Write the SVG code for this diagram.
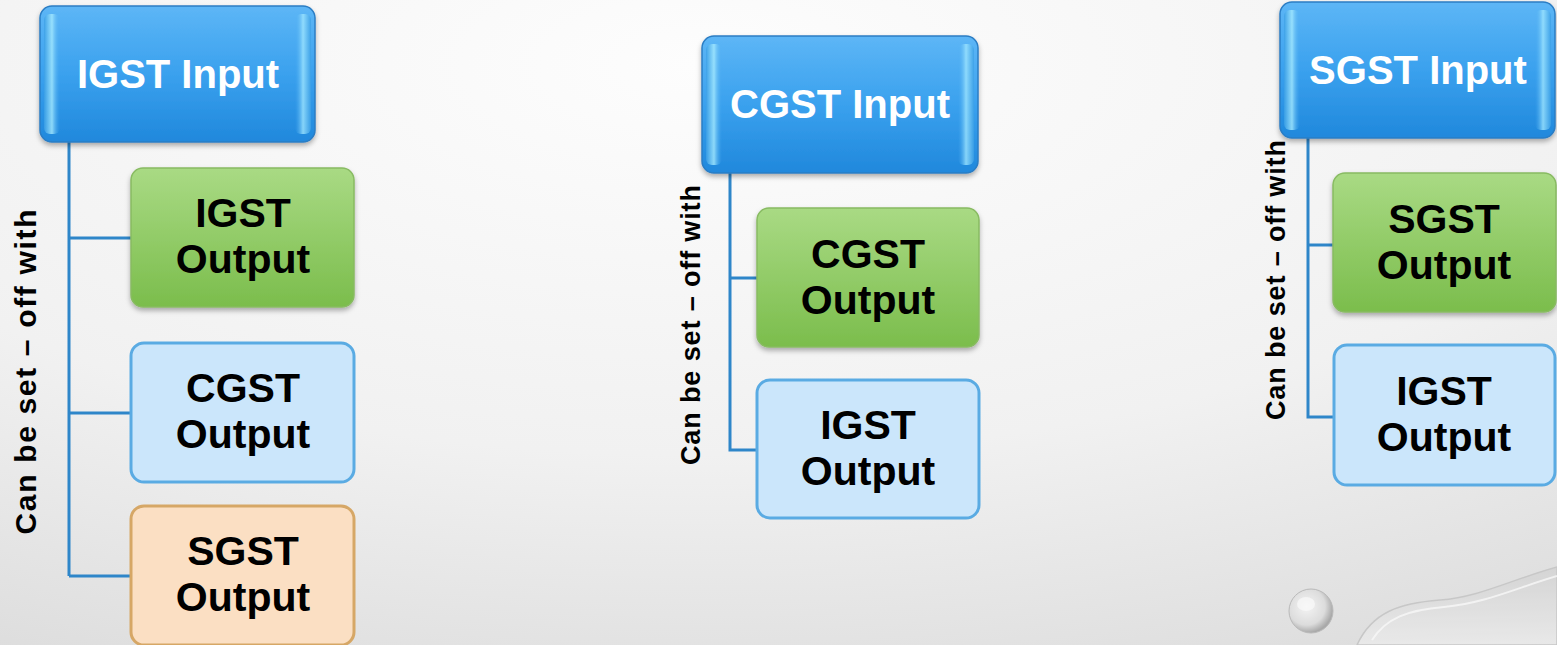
<svg xmlns="http://www.w3.org/2000/svg" width="1557" height="645" viewBox="0 0 1557 645">
  <defs>
    <radialGradient id="bg" cx="0.45" cy="0.1" r="1.1">
      <stop offset="0" stop-color="#fdfdfd"/>
      <stop offset="0.55" stop-color="#f1f1f1"/>
      <stop offset="1" stop-color="#d9d9d9"/>
    </radialGradient>
    <linearGradient id="blueFill" x1="0" y1="0" x2="0" y2="1">
      <stop offset="0" stop-color="#5db6f6"/>
      <stop offset="0.5" stop-color="#3aa1ee"/>
      <stop offset="1" stop-color="#2088dc"/>
    </linearGradient>
    <linearGradient id="blueEdgeL" x1="0" y1="0" x2="1" y2="0">
      <stop offset="0" stop-color="#3a9fe6"/>
      <stop offset="0.5" stop-color="#a8ecff"/>
      <stop offset="1" stop-color="#4aaaf0" stop-opacity="0"/>
    </linearGradient>
    <linearGradient id="blueEdgeR" x1="1" y1="0" x2="0" y2="0">
      <stop offset="0" stop-color="#3a9fe6"/>
      <stop offset="0.5" stop-color="#9fe6ff"/>
      <stop offset="1" stop-color="#4aaaf0" stop-opacity="0"/>
    </linearGradient>
    <linearGradient id="greenFill" x1="0" y1="0" x2="0" y2="1">
      <stop offset="0" stop-color="#a9da84"/>
      <stop offset="1" stop-color="#7bbd4c"/>
    </linearGradient>
    <radialGradient id="bubble" cx="0.4" cy="0.4" r="0.6">
      <stop offset="0" stop-color="#f4f4f4"/>
      <stop offset="0.7" stop-color="#dcdcdc"/>
      <stop offset="1" stop-color="#a9a9a9"/>
    </radialGradient>
    <linearGradient id="wave" x1="0" y1="0" x2="0" y2="1">
      <stop offset="0" stop-color="#d2d2d2"/>
      <stop offset="1" stop-color="#ececec"/>
    </linearGradient>
    <filter id="shadow" x="-10%" y="-10%" width="120%" height="130%">
      <feDropShadow dx="0" dy="3" stdDeviation="2.5" flood-color="#000" flood-opacity="0.3"/>
    </filter>
  </defs>
  <style>
    .in-box { fill: url(#blueFill); stroke: #2b7dc4; stroke-width: 1.5; filter: url(#shadow); }
    .out-green { fill: url(#greenFill); stroke: #88bb62; stroke-width: 1.5; filter: url(#shadow); }
    .out-blue { fill: #cbe6fb; stroke: #5aabe3; stroke-width: 3; }
    .out-orange { fill: #fbdfc3; stroke: #d6a766; stroke-width: 3; }
    .in-label { font-family: "Liberation Sans", Arial, sans-serif; font-weight: bold; font-size: 40px; fill: #ffffff; text-anchor: middle; }
    .out-label { font-family: "Liberation Sans", Arial, sans-serif; font-weight: bold; font-size: 41px; fill: #000000; text-anchor: middle; }
    .side { font-family: "Liberation Sans", Arial, sans-serif; font-weight: bold; fill: #000000; text-anchor: middle; }
    .conn { fill: none; stroke: #2e86c9; stroke-width: 3; }
  </style>

  <!-- backdrop -->
  <rect x="0" y="0" width="1557" height="645" fill="url(#bg)"/>

  <!-- corner ornament: droplet and wave -->
  <g id="ornament">
    <path d="M1357 645 C1372 612 1400 603 1440 600 C1480 597 1510 580 1557 567 L1557 645 Z" fill="url(#wave)" stroke="#c2c2c2" stroke-width="1.5" opacity="0.8"/>
    <path d="M1372 640 C1386 618 1408 610 1444 607 C1486 603 1516 588 1557 576" fill="none" stroke="#f8f8f8" stroke-width="2" opacity="0.8"/>
    <circle cx="1311" cy="611" r="22" fill="url(#bubble)" stroke="#b9b9b9" stroke-width="1"/>
    <ellipse cx="1306" cy="604" rx="9" ry="7" fill="#fafafa" opacity="0.7"/>
  </g>

  <!-- tree connectors -->
  <g id="connectors">
    <path class="conn" d="M69 142 V576 M69 238 H131 M69 413 H131 M69 576 H131"/>
    <path class="conn" d="M730 173 V450 H757 M730 278 H757"/>
    <path class="conn" d="M1308 138 V417 H1333 M1308 245 H1333"/>
  </g>

  <!-- left tree -->
  <g id="igst-input">
    <rect class="in-box" x="40" y="6" width="275" height="136" rx="12"/>
    <rect x="44" y="14" width="16" height="120" rx="6" fill="url(#blueEdgeL)" opacity="0.8"/>
    <rect x="295" y="14" width="16" height="120" rx="6" fill="url(#blueEdgeR)" opacity="0.8"/>
    <text class="in-label" x="178" y="88">IGST Input</text>
  </g>
  <g id="igst-output-1">
    <rect class="out-green" x="131" y="168" width="223" height="139" rx="12"/>
    <text class="out-label" x="243" y="227">IGST</text>
    <text class="out-label" x="243" y="273">Output</text>
  </g>
  <g id="cgst-output-1">
    <rect class="out-blue" x="131" y="343" width="223" height="139" rx="13"/>
    <text class="out-label" x="243" y="402">CGST</text>
    <text class="out-label" x="243" y="448">Output</text>
  </g>
  <g id="sgst-output-1">
    <rect class="out-orange" x="131" y="506" width="223" height="139" rx="13"/>
    <text class="out-label" x="243" y="565">SGST</text>
    <text class="out-label" x="243" y="611">Output</text>
  </g>
  <g id="note-1">
    <text class="side" font-size="30" textLength="325" lengthAdjust="spacing" transform="translate(36 372) rotate(-90)">Can be set – off with</text>
  </g>

  <!-- middle tree -->
  <g id="cgst-input">
    <rect class="in-box" x="702" y="36" width="276" height="137" rx="12"/>
    <rect x="706" y="44" width="16" height="121" rx="6" fill="url(#blueEdgeL)" opacity="0.8"/>
    <rect x="958" y="44" width="16" height="121" rx="6" fill="url(#blueEdgeR)" opacity="0.8"/>
    <text class="in-label" x="840" y="118">CGST Input</text>
  </g>
  <g id="cgst-output-2">
    <rect class="out-green" x="757" y="208" width="222" height="139" rx="12"/>
    <text class="out-label" x="868" y="268">CGST</text>
    <text class="out-label" x="868" y="314">Output</text>
  </g>
  <g id="igst-output-2">
    <rect class="out-blue" x="757" y="380" width="222" height="138" rx="13"/>
    <text class="out-label" x="868" y="439">IGST</text>
    <text class="out-label" x="868" y="485">Output</text>
  </g>
  <g id="note-2">
    <text class="side" font-size="27" textLength="280" lengthAdjust="spacing" transform="translate(700 325) rotate(-90)">Can be set – off with</text>
  </g>

  <!-- right tree -->
  <g id="sgst-input">
    <rect class="in-box" x="1280" y="2" width="275" height="136" rx="12"/>
    <rect x="1284" y="10" width="16" height="120" rx="6" fill="url(#blueEdgeL)" opacity="0.8"/>
    <rect x="1535" y="10" width="16" height="120" rx="6" fill="url(#blueEdgeR)" opacity="0.8"/>
    <text class="in-label" x="1418" y="84">SGST Input</text>
  </g>
  <g id="sgst-output-3">
    <rect class="out-green" x="1333" y="173" width="223" height="139" rx="12"/>
    <text class="out-label" x="1444" y="233">SGST</text>
    <text class="out-label" x="1444" y="279">Output</text>
  </g>
  <g id="igst-output-3">
    <rect class="out-blue" x="1334" y="345" width="221" height="140" rx="13"/>
    <text class="out-label" x="1444" y="405">IGST</text>
    <text class="out-label" x="1444" y="451">Output</text>
  </g>
  <g id="note-3">
    <text class="side" font-size="27" textLength="280" lengthAdjust="spacing" transform="translate(1285 280) rotate(-90)">Can be set – off with</text>
  </g>
</svg>
